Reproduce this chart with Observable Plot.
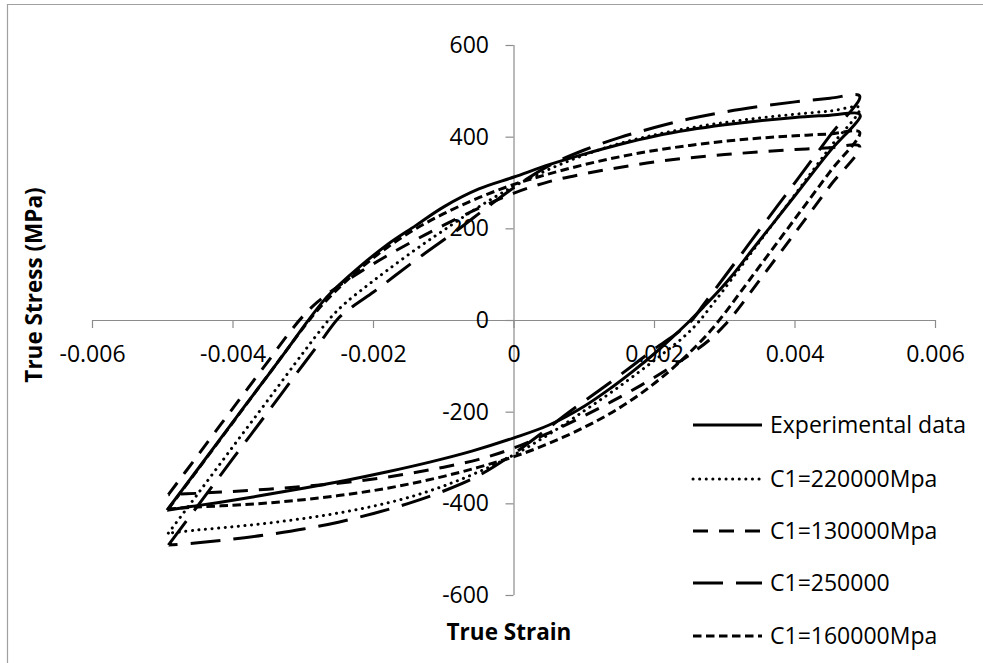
<!DOCTYPE html>
<html><head><meta charset="utf-8">
<script src="https://cdn.jsdelivr.net/npm/d3@7"></script>
<script src="https://cdn.jsdelivr.net/npm/@observablehq/plot@0.6"></script>
<style>
html,body{margin:0;padding:0;background:#fff;}
#chart{position:relative;width:983px;height:663px;overflow:hidden;}
</style></head><body><div id="chart"></div>
<script>
// ---- Data ----
const seriesNames = ["Experimental data", "C1=220000Mpa", "C1=130000Mpa", "C1=250000", "C1=160000Mpa"];

const expStrain = [-0.00494,-0.0045,-0.004,-0.0035,-0.0032,-0.00294,-0.0027,-0.0025,-0.0022,-0.0018,-0.0014,-0.001,-0.0005,0,0.0005,0.001,0.0015,0.002,0.0025,0.003,0.0035,0.004,0.0045,0.0049,
  0.00493,0.0045,0.0041,0.0037,0.0034,0.0031,0.0029,0.0027,0.0025,0.0023,0.002,0.0017,0.0014,0.001,0.0005,0,-0.0006,-0.0012,-0.0018,-0.0024,-0.003,-0.0036,-0.0042,-0.0046,-0.00494];
const expStress = [-414,-324,-221,-119,-57,-2,45,76,117,166,207,248,287,313,340,363,384,402,416,427,436,443,448,452,
  446,370,292,214,156,97,62,30,-1,-30,-72,-110,-145,-187,-228,-256,-285,-309,-330,-349,-366,-382,-397,-406,-414];

const c220Strain = [-0.00492,-0.0045,-0.004,-0.0035,-0.003,-0.0028,-0.0026,-0.0024,-0.0021,-0.0018,-0.0014,-0.001,-0.0005,0,0.0005,0.001,0.0015,0.002,0.0025,0.003,0.0035,0.004,0.0045,0.00492,
  0.0045,0.004,0.0035,0.003,0.0028,0.0026,0.0024,0.0021,0.0018,0.0014,0.001,0.0005,0,-0.0005,-0.001,-0.0015,-0.002,-0.0025,-0.003,-0.0035,-0.004,-0.0045,-0.00492];
const c220Stress = [-464,-378,-275,-173,-70,-30,8,38,75,110,155,197,248,293,330,361,386,405,420,432,442,450,457,464,
  378,275,173,70,30,-8,-38,-75,-110,-155,-197,-248,-293,-330,-361,-386,-405,-420,-432,-442,-450,-457,-464];

const c130Strain = [-0.00492,-0.0045,-0.004,-0.0035,-0.0032,-0.003,-0.0028,-0.0025,-0.0022,-0.0018,-0.0014,-0.001,-0.0005,0,0.0005,0.001,0.0015,0.002,0.0025,0.003,0.0035,0.004,0.0045,0.00492,
  0.0045,0.004,0.0035,0.0032,0.003,0.0028,0.0025,0.0022,0.0018,0.0014,0.001,0.0005,0,-0.0005,-0.001,-0.0015,-0.002,-0.0025,-0.003,-0.0035,-0.004,-0.0045,-0.00492];
const c130Stress = [-380,-294,-191,-89,-27,10,40,75,105,142,176,208,245,278,303,320,334,346,355,362,368,373,377,380,
  294,191,89,27,-10,-40,-75,-105,-142,-176,-208,-245,-278,-303,-320,-334,-346,-355,-362,-368,-373,-377,-380];

const c250Strain = [-0.00492,-0.0045,-0.004,-0.0035,-0.003,-0.0027,-0.0025,-0.0023,-0.002,-0.0017,-0.0013,-0.0008,-0.0004,0,0.0005,0.001,0.0015,0.002,0.0025,0.003,0.0035,0.004,0.0045,0.00492,
  0.0045,0.004,0.0035,0.003,0.0027,0.0025,0.0023,0.002,0.0017,0.0013,0.0008,0.0004,0,-0.0005,-0.001,-0.0015,-0.002,-0.0025,-0.003,-0.0035,-0.004,-0.0045,-0.00492];
const c250Stress = [-490,-404,-301,-199,-96,-35,5,30,62,97,143,198,245,290,338,372,399,421,440,455,467,477,485,490,
  404,301,199,96,35,-5,-30,-62,-97,-143,-198,-245,-290,-338,-372,-399,-421,-440,-455,-467,-477,-485,-490];

const c160Strain = [-0.00492,-0.0045,-0.004,-0.0035,-0.0032,-0.003,-0.0028,-0.0025,-0.0022,-0.0018,-0.0014,-0.001,-0.0005,0,0.0005,0.001,0.0015,0.002,0.0025,0.003,0.0035,0.004,0.0045,0.00492,
  0.0045,0.004,0.0035,0.0032,0.003,0.0028,0.0025,0.0022,0.0018,0.0014,0.001,0.0005,0,-0.0005,-0.001,-0.0015,-0.002,-0.0025,-0.003,-0.0035,-0.004,-0.0045,-0.00492];
const c160Stress = [-411,-325,-222,-119,-57,-16,22,70,112,160,200,233,268,297,320,340,357,371,382,391,398,403,407,411,
  325,222,119,57,16,-22,-70,-112,-160,-200,-233,-268,-297,-320,-340,-357,-371,-382,-391,-398,-403,-407,-411];

const xTicks = [-0.006,-0.004,-0.002,0,0.002,0.004,0.006];
const xTickLabels = ["-0.006","-0.004","-0.002","0","0.002","0.004","0.006"];
const yTicks = [-600,-400,-200,0,200,400,600];
const yTickLabels = ["-600","-400","-200","0","200","400","600"];
const xTitle = "True Strain";
const yTitle = "True Stress (MPa)";

// ---- Styles ----
const axisColor = "#8c8c8c";
const styles = [
  {dash: null, cap: "butt"},
  {dash: "0.1,6.5", cap: "round"},
  {dash: "15,11", cap: "butt"},
  {dash: "30,13", cap: "butt"},
  {dash: "8.5,4.5", cap: "butt"}
];

const toRows = (xs, ys) => xs.map((x, i) => ({x, y: ys[i]}));
const seriesRows = [
  toRows(expStrain, expStress),
  toRows(c220Strain, c220Stress),
  toRows(c130Strain, c130Stress),
  toRows(c250Strain, c250Stress),
  toRows(c160Strain, c160Stress)
];

const lineMarks = seriesRows.map((rows, k) => Plot.line(rows, {
  x: "x", y: "y", stroke: "#000", strokeWidth: 3, curve: "catmull-rom",
  strokeDasharray: styles[k].dash, strokeLinecap: styles[k].cap, strokeLinejoin: "round"
}));

const plot = Plot.plot({
  width: 983, height: 663,
  marginLeft: 92, marginRight: 48, marginTop: 45, marginBottom: 68,
  x: {domain: [-0.006, 0.006], axis: null},
  y: {domain: [-600, 600], axis: null},
  style: {fontFamily: "'Open Sans', sans-serif", fontSize: "23px", background: "#fff", color: "#000", overflow: "visible"},
  marks: [
    Plot.ruleY([0], {x1: -0.006, x2: 0.006, stroke: axisColor, strokeWidth: 1.2}),
    Plot.ruleX([0], {y1: -600, y2: 600, stroke: axisColor, strokeWidth: 1.2}),
    Plot.ruleX(xTicks, {x: d => d, y1: 0, y2: 0, insetBottom: -8, stroke: axisColor, strokeWidth: 1.2}),
    Plot.ruleY(yTicks, {y: d => d, x1: 0, x2: 0, insetLeft: -8, stroke: axisColor, strokeWidth: 1.2}),
    Plot.text(xTicks, {x: d => d, y: 0, dy: 34, text: (d, i) => xTickLabels[i], fill: "#000"}),
    Plot.text(yTicks, {x: 0, y: d => d, dx: -25, textAnchor: "end", text: (d, i) => yTickLabels[i], fill: "#000"}),
    ...lineMarks
  ]
});

const svg = d3.select(plot);
// chart-area border (partially cropped)
svg.append("path").attr("d", "M7.5,663V4.5H983").attr("fill", "none").attr("stroke", "#a0a0a0").attr("stroke-width", 1.2);

// axis titles
svg.append("text").attr("x", 509).attr("y", 640).attr("text-anchor", "middle")
  .attr("font-weight", "bold").attr("font-size", 22.5).attr("fill", "#000").text(xTitle);
svg.append("text").attr("transform", "translate(42,285) rotate(-90)").attr("text-anchor", "middle")
  .attr("font-weight", "bold").attr("font-size", 22.5).attr("fill", "#000").text(yTitle);

// legend
const legendY = [425, 479, 531, 583, 636];
const lg = svg.append("g").attr("text-anchor", "start");
seriesNames.forEach((name, k) => {
  const yy = legendY[k];
  lg.append("line").attr("x1", 693).attr("x2", 762).attr("y1", yy).attr("y2", yy)
    .attr("stroke", "#000").attr("stroke-width", 3)
    .attr("stroke-dasharray", styles[k].dash).attr("stroke-linecap", styles[k].cap);
  lg.append("text").attr("x", 770).attr("y", yy + 8).attr("text-anchor", "start")
    .attr("font-size", 23).attr("fill", "#000").text(name);
});

document.getElementById("chart").appendChild(plot);
</script>
</body></html>
